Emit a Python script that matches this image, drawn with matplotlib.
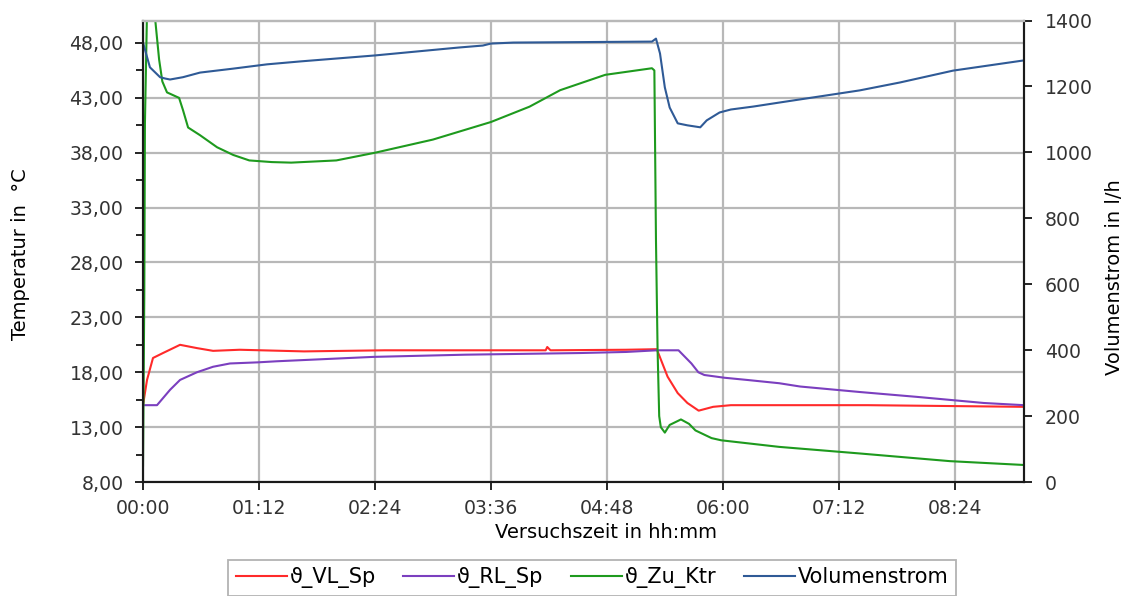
import matplotlib
matplotlib.use("Agg")
import matplotlib.pyplot as plt
from matplotlib.ticker import FixedLocator

plt.rcParams['font.family'] = ['DejaVu Sans']

# time axis in minutes since start of the test
time_ticks = [0, 72, 144, 216, 288, 360, 432, 504]
time_labels = ["00:00", "01:12", "02:24", "03:36", "04:48", "06:00", "07:12", "08:24"]
temp_ticks = [8, 13, 18, 23, 28, 33, 38, 43, 48]
flow_ticks = [0, 200, 400, 600, 800, 1000, 1200, 1400]

# ϑ_VL_Sp  (supply temperature, storage)
vl_t = [0, 2.5, 6.2, 12.4, 23, 33.5, 43.5, 60, 100, 150, 200, 250, 251, 253, 300, 319,
        325.7, 332, 338, 345, 354, 365, 450, 547]
vl_T = [15.0, 17.3, 19.3, 19.75, 20.5, 20.2, 19.95, 20.05, 19.9, 20.0, 20.0, 20.0, 20.3, 20.0, 20.05, 20.1,
        17.6, 16.1, 15.2, 14.5, 14.85, 15.0, 15.0, 14.85]

# ϑ_RL_Sp  (return temperature, storage)
rl_t = [0, 8.7, 16.8, 23, 33.5, 43.5, 54, 71, 83, 143, 200, 271, 300, 319, 332.5,
        340.5, 344.8, 348.5, 361, 375, 395, 408, 445, 481, 522, 547]
rl_T = [15.0, 15.0, 16.4, 17.3, 18.0, 18.5, 18.8, 18.9, 19.0, 19.4, 19.6, 19.75, 19.85, 20.0, 20.0,
        18.8, 18.0, 17.75, 17.5, 17.3, 17.0, 16.7, 16.2, 15.75, 15.2, 15.0]

# ϑ_Zu_Ktr  (inlet temperature, collector)
zu_t = [0, 0.8, 1.2, 2.5, 7.0, 10.0, 12.0, 14.9, 22.4, 24.8, 28, 35.4, 46, 56, 66, 80, 92,
        120, 144, 180, 216, 240, 259, 287, 316, 317.5, 318.5, 319.5, 320.5, 321.5, 324, 327,
        334, 339, 343, 353, 359, 374, 395, 445, 501, 547]
zu_T = [9.5, 25.0, 40.7, 51.0, 51.0, 46.5, 44.5, 43.5, 43.0, 41.9, 40.3, 39.6, 38.5, 37.8, 37.3, 37.15, 37.1,
        37.3, 38.0, 39.2, 40.8, 42.2, 43.7, 45.1, 45.7, 45.5, 30.0, 20.0, 14.0, 13.0, 12.5, 13.2,
        13.7, 13.3, 12.7, 12.0, 11.8, 11.55, 11.2, 10.6, 9.9, 9.55]

# Volumenstrom in l/h
vs_t = [0, 4.3, 10.6, 13.7, 16.8, 24.8, 35.4, 56, 77, 98, 144, 196, 211, 216, 230, 316,
        318.5, 321, 324, 327, 332, 338, 346, 350, 358, 365, 379, 395, 445, 470, 503, 547]
vs_V = [1333, 1258, 1228, 1224, 1221, 1228, 1242, 1254, 1267, 1276, 1294, 1318, 1324, 1330, 1333, 1336,
        1345, 1300, 1197, 1136, 1088, 1082, 1076, 1097, 1121, 1130, 1139, 1151, 1188, 1212, 1248, 1279]

W, H = 1131, 596
fig = plt.figure(figsize=(W / 100, H / 100), dpi=100)
ax = fig.add_axes([143 / W, 1 - 482 / H, (1024 - 143) / W, (482 - 20.5) / H])
ax2 = ax.twinx()

lw = 1.5
l1, = ax.plot(vl_t, vl_T, color='#ff2a2a', lw=lw, label='ϑ_VL_Sp')
l2, = ax.plot(rl_t, rl_T, color='#7b3fbf', lw=lw, label='ϑ_RL_Sp')
l3, = ax.plot(zu_t, zu_T, color='#1e9a1e', lw=lw, label='ϑ_Zu_Ktr')
l4, = ax2.plot(vs_t, vs_V, color='#2f5a96', lw=lw, label='Volumenstrom')

ax.set_xlim(0, 547)
ax.set_ylim(8, 50.05)
ax2.set_ylim(0, 1400)

grid_c = '#b8b8b8'
ax.set_xticks(time_ticks)
ax.set_xticklabels(time_labels)
ax.set_yticks(temp_ticks)
ax.set_yticklabels([f"{v},00" for v in temp_ticks])
ax.yaxis.set_minor_locator(FixedLocator([v + 2.5 for v in temp_ticks]))
ax2.set_yticks(flow_ticks)
ax2.set_yticklabels([str(v) for v in flow_ticks])

ax.grid(True, which='major', color=grid_c, lw=1.6)
ax.set_axisbelow(True)

tick_c = '#333333'
tfs = 13.6
ax.tick_params(axis='y', which='major', length=6, width=1.2, pad=8, labelsize=tfs, labelcolor=tick_c)
ax.tick_params(axis='y', which='minor', length=5, width=1.2)
ax.tick_params(axis='x', which='major', length=6, width=1.2, pad=6, labelsize=tfs, labelcolor=tick_c)
ax2.tick_params(axis='y', length=6, width=1.2, pad=9, labelsize=tfs, labelcolor=tick_c)

for a in (ax, ax2):
    a.spines['top'].set_color(grid_c)
    a.spines['top'].set_linewidth(1.6)
    for s in ('left', 'bottom', 'right'):
        a.spines[s].set_color('#1a1a1a')
        a.spines[s].set_linewidth(1.5)

lfs = 14
fig.text(606 / W, 1 - 538 / H, 'Versuchszeit in hh:mm', ha='center', va='baseline', fontsize=lfs)
fig.text(21 / W, 1 - 254 / H, 'Temperatur in  °C', rotation=90, ha='center', va='center', fontsize=lfs)
fig.text(1114 / W, 1 - 277 / H, 'Volumenstrom in l/h', rotation=90, ha='center', va='center', fontsize=lfs)

leg = fig.legend(handles=[l1, l2, l3, l4], loc='upper center', bbox_to_anchor=(592 / W, 1 - 560 / H),
                 ncol=4, frameon=True, fancybox=False, fontsize=15, borderaxespad=0,
                 handlelength=2.45, handletextpad=0.15, columnspacing=1.3, borderpad=0.35)
leg.get_frame().set_edgecolor('#a0a0a0')
leg.get_frame().set_linewidth(1.3)

fig.savefig('out.png', dpi=100)
